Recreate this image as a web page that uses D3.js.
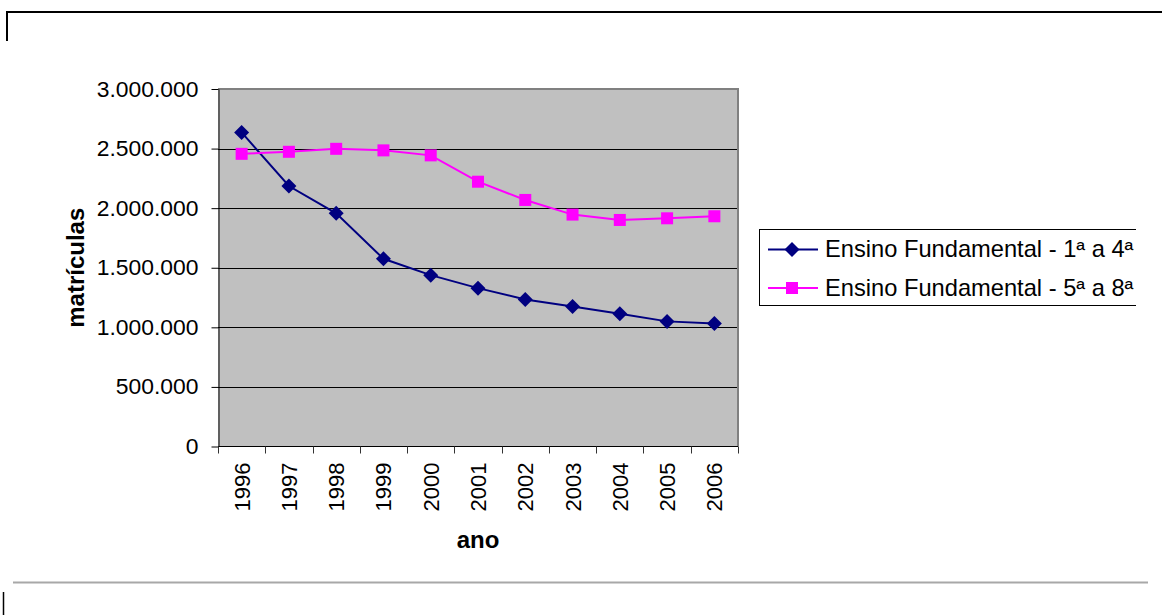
<!DOCTYPE html>
<html>
<head>
<meta charset="utf-8">
<script src="https://cdn.jsdelivr.net/npm/d3@7"></script>
<style>
  html, body { margin: 0; padding: 0; background: #fff; }
  svg { display: block; font-family: "Liberation Sans", Arial, sans-serif; }
</style>
</head>
<body>
<svg id="chart" width="1162" height="615"></svg>
<script>
// Matrículas no ensino fundamental, 1996–2006
const years = ["1996","1997","1998","1999","2000","2001","2002","2003","2004","2005","2006"];
const serie1a4 = [2636000, 2186000, 1957000, 1575000, 1438000, 1329000, 1234000, 1175000, 1114000, 1050000, 1033000];
const serie5a8 = [2456000, 2473000, 2498000, 2485000, 2443000, 2222000, 2069000, 1946000, 1901000, 1915000, 1932000];
const seriesNames = ["Ensino Fundamental - 1ª a 4ª", "Ensino Fundamental - 5ª a 8ª"];
const yTicks = [0, 500000, 1000000, 1500000, 2000000, 2500000, 3000000];
const xTitle = "ano";
const yTitle = "matrículas";

const svg = d3.select("#chart");

// page frame fragments
svg.append("path").attr("d", "M7,41 V12 H1162").attr("fill", "none").attr("stroke", "#000").attr("stroke-width", 2);
svg.append("line").attr("x1", 13).attr("x2", 1148).attr("y1", 582.5).attr("y2", 582.5).attr("stroke", "#a8a8a8").attr("stroke-width", 2);
svg.append("line").attr("x1", 3.5).attr("x2", 3.5).attr("y1", 592).attr("y2", 615).attr("stroke", "#000").attr("stroke-width", 1.5);

const plot = { left: 218, right: 738, top: 89, bottom: 446.5 };

const x = d3.scaleBand().domain(years).range([plot.left, plot.right]).padding(0);
const y = d3.scaleLinear().domain([0, 3000000]).range([plot.bottom, plot.top]);

// plot area
svg.append("rect")
  .attr("x", plot.left).attr("y", plot.top)
  .attr("width", plot.right - plot.left).attr("height", plot.bottom - plot.top)
  .attr("fill", "#c0c0c0");

// gridlines
svg.append("g").selectAll("line").data(yTicks.filter(d => d > 0 && d < 3000000)).join("line")
  .attr("x1", plot.left).attr("x2", plot.right)
  .attr("y1", d => Math.round(y(d)) + 0.5).attr("y2", d => Math.round(y(d)) + 0.5)
  .attr("stroke", "#000").attr("stroke-width", 1);

// plot border (top and right)
svg.append("path")
  .attr("d", `M${plot.left},${plot.top} H${plot.right} V${plot.bottom}`)
  .attr("fill", "none").attr("stroke", "#808080").attr("stroke-width", 2);

const fmt = d => d3.format(",")(d).replace(/,/g, ".");

// y axis
const yAxis = svg.append("g")
  .attr("transform", `translate(${plot.left + 0.5},0)`)
  .call(d3.axisLeft(y).tickValues(yTicks).tickFormat(fmt).tickSize(7).tickPadding(12).tickSizeOuter(0));
yAxis.select(".domain").attr("stroke", "#000");
yAxis.selectAll(".tick line").attr("stroke", "#000");
yAxis.selectAll(".tick text")
  .attr("font-family", "Liberation Sans, Arial, sans-serif")
  .attr("font-size", 22).attr("fill", "#000")
  .attr("transform", "scale(1.04,1)")
  .attr("x", -20 / 1.04);

// x axis with ticks on category boundaries
const xAxisG = svg.append("g").attr("transform", `translate(0,${plot.bottom})`);
xAxisG.append("line").attr("x1", plot.left).attr("x2", plot.right).attr("y1", 0).attr("y2", 0).attr("stroke", "#000");
const bounds = years.map(d => x(d)).concat([x(years[years.length - 1]) + x.bandwidth()]);
xAxisG.selectAll(".bt").data(bounds).join("line").attr("class", "bt")
  .attr("x1", d => Math.round(d) + 0.5).attr("x2", d => Math.round(d) + 0.5)
  .attr("y1", 0).attr("y2", 7).attr("stroke", "#333");
xAxisG.selectAll(".yl").data(years).join("text").attr("class", "yl")
  .attr("transform", d => `translate(${x(d) + x.bandwidth() / 2 + 8},16) rotate(-90)`)
  .attr("text-anchor", "end")
  .attr("font-size", 22).attr("fill", "#000")
  .text(d => d);

// axis titles
svg.append("text")
  .attr("x", (plot.left + plot.right) / 2).attr("y", 548)
  .attr("text-anchor", "middle").attr("font-size", 24).attr("font-weight", "bold")
  .text(xTitle);
svg.append("text")
  .attr("transform", `translate(84,${(plot.top + plot.bottom) / 2}) rotate(-90)`)
  .attr("text-anchor", "middle").attr("font-size", 24).attr("font-weight", "bold")
  .text(yTitle);

// series
const colors = ["#000080", "#ff00ff"];
const data = [serie1a4, serie5a8];
const line = d3.line().x((d, i) => x(years[i]) + x.bandwidth() / 2).y(d => y(d));

function drawMarker(g, kind, color) {
  if (kind === 0) {
    g.append("path").attr("d", "M0,-7.5 L7.5,0 L0,7.5 L-7.5,0 Z").attr("fill", color);
  } else {
    g.append("rect").attr("x", -6).attr("y", -6).attr("width", 12).attr("height", 12).attr("fill", color);
  }
}

data.forEach((vals, k) => {
  svg.append("path").datum(vals).attr("d", line)
    .attr("fill", "none").attr("stroke", colors[k]).attr("stroke-width", 2);
  vals.forEach((v, i) => {
    const g = svg.append("g").attr("transform", `translate(${x(years[i]) + x.bandwidth() / 2},${y(v)})`);
    drawMarker(g, k, colors[k]);
  });
});

// legend (clipped at the right edge of the chart object)
svg.append("clipPath").attr("id", "legclip").append("rect")
  .attr("x", 0).attr("y", 0).attr("width", 1136).attr("height", 615);
const leg = svg.append("g").attr("clip-path", "url(#legclip)");
leg.append("rect").attr("x", 759.5).attr("y", 229.5).attr("width", 420).attr("height", 76)
  .attr("fill", "#fff").attr("stroke", "#000").attr("stroke-width", 1);
seriesNames.forEach((name, k) => {
  const ly = 249.5 + k * 38.5;
  leg.append("line").attr("x1", 768).attr("x2", 818).attr("y1", ly).attr("y2", ly)
    .attr("stroke", colors[k]).attr("stroke-width", 2);
  const g = leg.append("g").attr("transform", `translate(792,${ly})`);
  drawMarker(g, k, colors[k]);
  leg.append("text").attr("x", 825).attr("y", ly + 8)
    .attr("font-size", 23).attr("fill", "#000")
    .attr("transform", `translate(825,0) scale(1.03,1) translate(-825,0)`)
    .text(name);
});
</script>
</body>
</html>
